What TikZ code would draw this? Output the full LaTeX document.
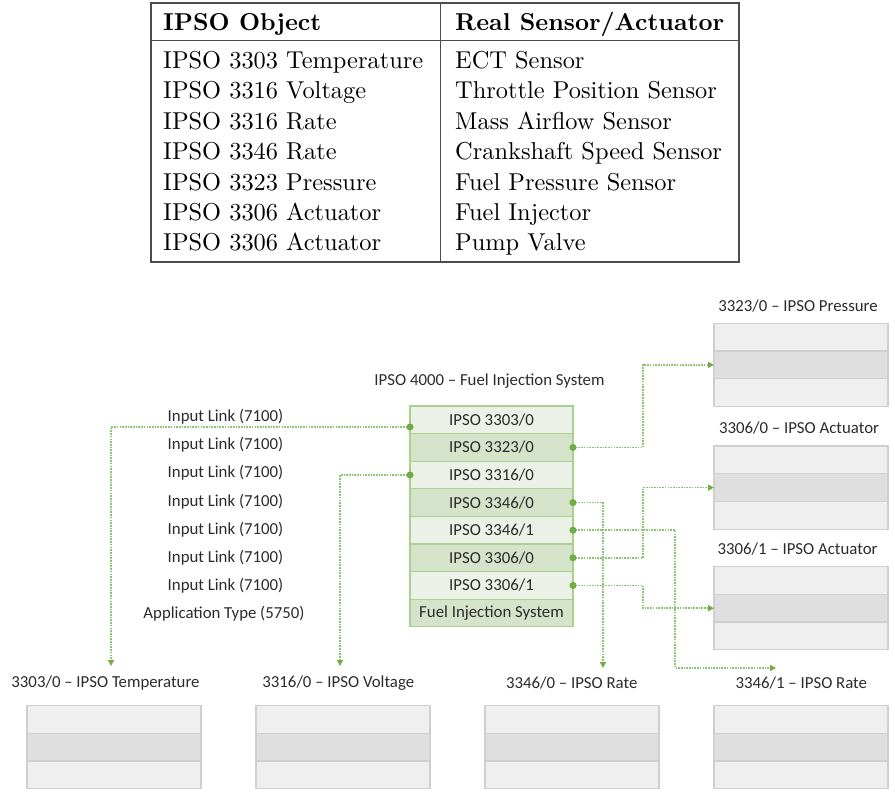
\documentclass[tikz,border=0pt]{standalone}
\usepackage{fontspec}
\newfontfamily\diagfont{Carlito}
\newfontfamily\tabfont[Extension=.otf,BoldFont=lmroman10-bold]{lmroman10-regular}
\usetikzlibrary{positioning,arrows.meta}

\definecolor{blkedge}{HTML}{A9D18E}
\definecolor{blklight}{HTML}{EBF1E6}
\definecolor{blkdark}{HTML}{D5E3CB}
\definecolor{linkgreen}{HTML}{8CC572}
\definecolor{dotgreen}{HTML}{70AD47}
\definecolor{boxedge}{HTML}{CFCFCF}
\definecolor{boxlight}{HTML}{EFEFEF}
\definecolor{boxdark}{HTML}{DFDFDF}
\definecolor{txtgray}{HTML}{2B2B2B}

\tikzset{
  cell/.style = {draw=blkedge, line width=1.2pt, minimum width=163pt, minimum height=27.6pt,
                 inner sep=0pt, outer sep=0pt, text=txtgray, font=\diagfont\fontsize{16.8}{20}\selectfont},
  cellA/.style = {cell, fill=blklight},
  cellB/.style = {cell, fill=blkdark},
  slot/.style = {draw=boxedge, line width=1.2pt, minimum width=174pt, minimum height=27.7pt,
                 inner sep=0pt, outer sep=0pt, fill=boxlight},
  slotmid/.style = {slot, fill=boxdark},
  lbl/.style = {inner sep=0pt, text=txtgray, font=\diagfont\fontsize{16.8}{20}\selectfont},
  tcell/.style = {anchor=base west, inner sep=0pt, font=\tabfont\fontsize{24.4}{30}\selectfont},
  thead/.style = {tcell, font=\tabfont\bfseries\fontsize{24.4}{30}\selectfont},
  tline/.style = {draw=black!70, line width=1.1pt},
  link/.style = {draw=linkgreen, line width=1.6pt, dash pattern=on 1.6pt off 1.1pt,
                 {Circle[length=7pt,color=dotgreen]}-{Triangle[length=6pt,width=6pt,color=dotgreen]},
                 shorten <=-3.5pt}
}

\begin{document}
\begin{tikzpicture}[x=1pt, y=-1pt]
  \useasboundingbox (0,0) rectangle (895,797);

  % table
  \node[tline, rectangle, minimum width=588pt, minimum height=259pt, inner sep=0pt] (tbl) at (445,132.5) {};
  \draw[tline] ([yshift=-38.5pt]tbl.north west) -- ([yshift=-38.5pt]tbl.north east);
  \draw[tline] ([xshift=290pt]tbl.north west) -- ([xshift=290pt]tbl.south west);
  \node[thead] (hobj) at (163,30.7) {IPSO Object};
  \node[thead] (hdev) at (455,30.7) {Real Sensor/Actuator};
  \foreach \obj/\dev [count=\k] in {{IPSO 3303 Temperature}/{ECT Sensor},
      {IPSO 3316 Voltage}/{Throttle Position Sensor},
      {IPSO 3316 Rate}/{Mass Airflow Sensor},
      {IPSO 3346 Rate}/{Crankshaft Speed Sensor},
      {IPSO 3323 Pressure}/{Fuel Pressure Sensor},
      {IPSO 3306 Actuator}/{Fuel Injector},
      {IPSO 3306 Actuator}/{Pump Valve}} {
    \node[tcell] (obj\k) at (163,{68.3+30.45*(\k-1)}) {\obj};
    \node[tcell] (dev\k) at (455,{68.3+30.45*(\k-1)}) {\dev};
  }

  % fuel injection object
  \node[lbl] (title) at (489.5,381.5) {IPSO 4000 – Fuel Injection System};
  \node[cellA] (r1) at (491.5,419.8) {IPSO 3303/0};
  \node[cellB, below=0pt of r1] (r2) {IPSO 3323/0};
  \node[cellA, below=0pt of r2] (r3) {IPSO 3316/0};
  \node[cellB, below=0pt of r3] (r4) {IPSO 3346/0};
  \node[cellA, below=0pt of r4] (r5) {IPSO 3346/1};
  \node[cellB, below=0pt of r5] (r6) {IPSO 3306/0};
  \node[cellA, below=0pt of r6] (r7) {IPSO 3306/1};
  \node[cellB, below=0pt of r7] (r8) {Fuel Injection System};

  \foreach \y [count=\k] in {416.7,445,473,501.7,530,558,586}
    \node[lbl] (in\k) at (225.5,\y) {Input Link (7100)};
  \node[lbl] (apptype) at (224,613.3) {Application Type (5750)};

  % right hand objects
  \node[lbl] (preslbl) at (798,305.7) {3323/0 – IPSO Pressure};
  \node[slot] (pres1) at (801,337.2) {};
  \node[slotmid, below=0pt of pres1] (pres2) {};
  \node[slot, below=0pt of pres2] (pres3) {};

  \node[lbl] (act0lbl) at (799,428.3) {3306/0 – IPSO Actuator};
  \node[slot] (act0a) at (801,459.9) {};
  \node[slotmid, below=0pt of act0a] (act0b) {};
  \node[slot, below=0pt of act0b] (act0c) {};

  \node[lbl] (act1lbl) at (797.5,549.3) {3306/1 – IPSO Actuator};
  \node[slot] (act1a) at (801,580.5) {};
  \node[slotmid, below=0pt of act1a] (act1b) {};
  \node[slot, below=0pt of act1b] (act1c) {};

  % bottom objects
  \node[lbl] (templbl) at (105.5,682.7) {3303/0 – IPSO Temperature};
  \node[slot] (temp1) at (114,719.5) {};
  \node[slotmid, below=0pt of temp1] (temp2) {};
  \node[slot, below=0pt of temp2] (temp3) {};

  \node[lbl] (voltlbl) at (338.3,682.7) {3316/0 – IPSO Voltage};
  \node[slot] (volt1) at (343,719.5) {};
  \node[slotmid, below=0pt of volt1] (volt2) {};
  \node[slot, below=0pt of volt2] (volt3) {};

  \node[lbl] (rate0lbl) at (571.7,682.7) {3346/0 – IPSO Rate};
  \node[slot] (rate0a) at (572,719.5) {};
  \node[slotmid, below=0pt of rate0a] (rate0b) {};
  \node[slot, below=0pt of rate0b] (rate0c) {};

  \node[lbl] (rate1lbl) at (801.3,682.7) {3346/1 – IPSO Rate};
  \node[slot] (rate1a) at (801,719.5) {};
  \node[slotmid, below=0pt of rate1a] (rate1b) {};
  \node[slot, below=0pt of rate1b] (rate1c) {};

  % links
  \coordinate (tempin) at (111,666);
  \coordinate (voltin) at (340,666);
  \coordinate (rate0in) at (603,668);
  \coordinate (rate1in) at (776,668);
  \coordinate (bus) at (643,0);
  \coordinate (bus2) at (675,0);

  \draw[link] ([yshift=-7.2pt]r1.west) -| (tempin);
  \draw[link] (r3.west) -| (voltin);
  \draw[link] (r2.east) -- (r2.east -| bus) |- (pres2.west);
  \draw[link] (r4.east) -| (rate0in);
  \draw[link] (r5.east) -- (r5.east -| bus2) |- (rate1in);
  \draw[link] (r6.east) -- (r6.east -| bus) |- (act0b.west);
  \draw[link] (r7.east) -- (r7.east -| bus) |- (act1b.west);
\end{tikzpicture}
\end{document}
